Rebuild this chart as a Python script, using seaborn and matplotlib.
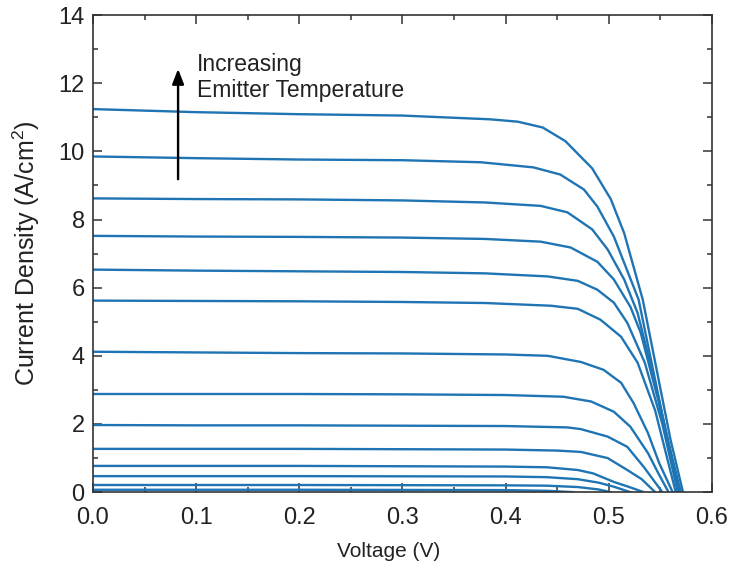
import pandas as pd
import matplotlib
matplotlib.use("Agg")
import matplotlib.pyplot as plt
import seaborn as sns
from matplotlib.ticker import MultipleLocator

# J-V curves, one per emitter temperature (low -> high)
v_01 = [0, 0.2, 0.4, 0.44, 0.466]
j_01 = [0.07, 0.07, 0.06, 0.04, 0.0]
v_02 = [0, 0.2, 0.4, 0.44, 0.47, 0.49, 0.502]
j_02 = [0.21, 0.21, 0.20, 0.19, 0.15, 0.08, 0.0]
v_03 = [0, 0.2, 0.4, 0.44, 0.47, 0.49, 0.505, 0.521]
j_03 = [0.47, 0.47, 0.46, 0.44, 0.38, 0.28, 0.16, 0.0]
v_04 = [0, 0.2, 0.4, 0.44, 0.47, 0.485, 0.505, 0.52, 0.534]
j_04 = [0.77, 0.77, 0.75, 0.73, 0.65, 0.55, 0.30, 0.15, 0.0]
v_05 = [0, 0.1, 0.2, 0.3, 0.4, 0.45, 0.473, 0.499, 0.518, 0.532, 0.545]
j_05 = [1.27, 1.27, 1.27, 1.26, 1.25, 1.22, 1.18, 1.00, 0.65, 0.38, 0.0]
v_06 = [0, 0.1, 0.2, 0.3, 0.4, 0.46, 0.473, 0.499, 0.518, 0.534, 0.552]
j_06 = [1.97, 1.96, 1.96, 1.95, 1.94, 1.90, 1.85, 1.63, 1.33, 0.74, 0.0]
v_07 = [0, 0.1, 0.2, 0.3, 0.4, 0.456, 0.483, 0.505, 0.521, 0.538, 0.548, 0.558]
j_07 = [2.88, 2.88, 2.88, 2.87, 2.85, 2.80, 2.66, 2.36, 1.92, 1.15, 0.56, 0.0]
v_08 = [0, 0.1, 0.2, 0.3, 0.4, 0.441, 0.473, 0.495, 0.512, 0.524, 0.538, 0.549, 0.562]
j_08 = [4.12, 4.10, 4.08, 4.07, 4.04, 4.00, 3.82, 3.59, 3.21, 2.62, 1.74, 0.85, 0.0]
v_09 = [0, 0.1, 0.2, 0.3, 0.38, 0.444, 0.470, 0.492, 0.512, 0.528, 0.545, 0.565]
j_09 = [5.62, 5.61, 5.60, 5.58, 5.55, 5.47, 5.38, 5.06, 4.56, 3.80, 2.40, 0.0]
v_10 = [0, 0.1, 0.2, 0.3, 0.38, 0.441, 0.470, 0.489, 0.505, 0.518, 0.535, 0.552, 0.567]
j_10 = [6.53, 6.50, 6.48, 6.46, 6.42, 6.33, 6.20, 5.94, 5.56, 4.97, 3.80, 2.00, 0.0]
v_11 = [0, 0.1, 0.2, 0.3, 0.38, 0.434, 0.463, 0.489, 0.505, 0.521, 0.531, 0.548, 0.568]
j_11 = [7.52, 7.50, 7.49, 7.47, 7.43, 7.35, 7.18, 6.76, 6.24, 5.44, 4.68, 2.70, 0.0]
v_12 = [0, 0.1, 0.2, 0.3, 0.38, 0.434, 0.460, 0.484, 0.499, 0.515, 0.528, 0.545, 0.569]
j_12 = [8.62, 8.60, 8.59, 8.56, 8.50, 8.40, 8.21, 7.71, 7.12, 6.24, 5.26, 3.20, 0.0]
v_13 = [0, 0.1, 0.2, 0.3, 0.376, 0.427, 0.453, 0.476, 0.489, 0.505, 0.529, 0.557, 0.570]
j_13 = [9.85, 9.80, 9.76, 9.74, 9.68, 9.53, 9.32, 8.88, 8.38, 7.50, 5.65, 1.53, 0.0]
v_14 = [0, 0.1, 0.2, 0.3, 0.385, 0.412, 0.436, 0.458, 0.484, 0.502, 0.515, 0.533, 0.560, 0.572]
j_14 = [11.24, 11.15, 11.09, 11.05, 10.94, 10.87, 10.70, 10.30, 9.50, 8.60, 7.60, 5.65, 1.53, 0.0]

curves = [(v_01, j_01), (v_02, j_02), (v_03, j_03), (v_04, j_04), (v_05, j_05),
          (v_06, j_06), (v_07, j_07), (v_08, j_08), (v_09, j_09), (v_10, j_10),
          (v_11, j_11), (v_12, j_12), (v_13, j_13), (v_14, j_14)]

rows = []
for i, (v, j) in enumerate(curves):
    for a, b in zip(v, j):
        rows.append({"curve": i, "V": a, "J": b})
df = pd.DataFrame(rows)

sns.set_style("ticks")
plt.rcParams["font.family"] = ["Liberation Sans", "DejaVu Sans"]
plt.rcParams["mathtext.fontset"] = "custom"
plt.rcParams["mathtext.rm"] = "Liberation Sans"

fig = plt.figure(figsize=(7.35, 5.67), dpi=100)
ax = fig.add_axes([0.1265, 0.132, 0.842, 0.8415])

sns.lineplot(data=df, x="V", y="J", units="curve", estimator=None, sort=False,
             color="#1f74b4", linewidth=1.7, ax=ax)

ax.set_xlim(0, 0.6)
ax.set_ylim(0, 14)
ax.xaxis.set_major_locator(MultipleLocator(0.1))
ax.xaxis.set_minor_locator(MultipleLocator(0.05))
ax.yaxis.set_major_locator(MultipleLocator(2))
ax.yaxis.set_minor_locator(MultipleLocator(1))
ax.xaxis.set_major_formatter(matplotlib.ticker.FormatStrFormatter("%.1f"))

ax.tick_params(which="both", direction="in", top=True, right=True,
               color="#333333", width=1.1, labelsize=17, labelcolor="#222222")
ax.tick_params(which="major", length=6.5)
ax.tick_params(which="minor", length=3.5)
ax.tick_params(axis="y", which="major", pad=6)
ax.tick_params(axis="x", which="major", pad=11)
for s in ax.spines.values():
    s.set_color("#333333")
    s.set_linewidth(1.2)

ax.set_xlabel("Voltage (V)", fontsize=15, color="#222222")
ax.set_ylabel("Current Density (A/cm$^2$)", fontsize=18, color="#222222")
ax.xaxis.set_label_coords(0.478, -0.105)
ax.yaxis.set_label_coords(-0.082, 0.5)

ax.annotate("", xy=(0.0825, 12.5), xytext=(0.0825, 9.1),
            arrowprops=dict(arrowstyle="-|>,head_length=0.9,head_width=0.35",
                            color="black", lw=1.7))
ax.text(0.101, 11.6, "Increasing\nEmitter Temperature", fontsize=16.5,
        color="#222222", va="baseline", ha="left", linespacing=1.15)

fig.savefig("out.png", dpi=100)
